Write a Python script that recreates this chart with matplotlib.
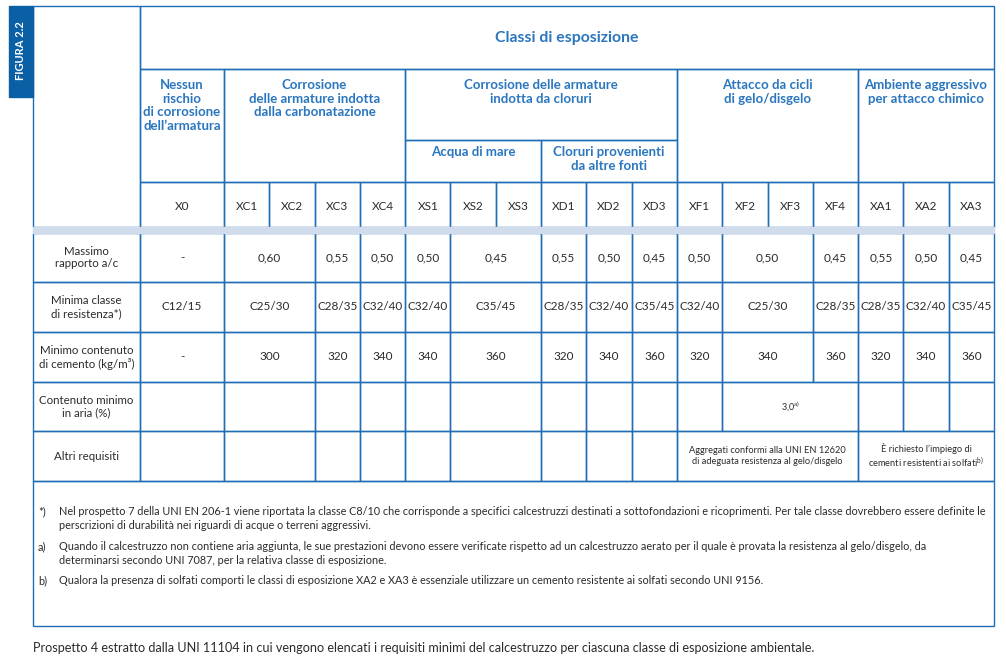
import matplotlib.pyplot as plt
from matplotlib.patches import Rectangle

plt.rcParams['font.family'] = ['Lato', 'DejaVu Sans']
plt.rcParams['mathtext.fontset'] = 'custom'
plt.rcParams['mathtext.rm'] = 'Lato'

# ---- table content ----
title = 'Classi di esposizione'
codes = ['X0', 'XC1', 'XC2', 'XC3', 'XC4', 'XS1', 'XS2', 'XS3', 'XD1', 'XD2', 'XD3',
         'XF1', 'XF2', 'XF3', 'XF4', 'XA1', 'XA2', 'XA3']
groups = ['Nessun\nrischio\ndi corrosione\ndell’armatura',
          'Corrosione\ndelle armature indotta\ndalla carbonatazione',
          'Corrosione delle armature\nindotta da cloruri',
          'Attacco da cicli\ndi gelo/disgelo',
          'Ambiente aggressivo\nper attacco chimico']
group_spans = [1, 4, 6, 4, 3]
chloride_sub = ['Acqua di mare', 'Cloruri provenienti\nda altre fonti']
chloride_sub_spans = [3, 3]

row_labels = ['Massimo\nrapporto a/c',
              'Minima classe\ndi resistenza*)',
              'Minimo contenuto\ndi cemento (kg/m³)',
              'Contenuto minimo\nin aria (%)',
              'Altri requisiti']

main_spans = [1, 2, 1, 1, 1, 2, 1, 1, 1, 1, 2, 1, 1, 1, 1]
rapporto_ac = ['-', '0,60', '0,55', '0,50', '0,50', '0,45', '0,55', '0,50', '0,45',
               '0,50', '0,50', '0,45', '0,55', '0,50', '0,45']
classe_resistenza = ['C12/15', 'C25/30', 'C28/35', 'C32/40', 'C32/40', 'C35/45', 'C28/35',
                     'C32/40', 'C35/45', 'C32/40', 'C25/30', 'C28/35', 'C28/35', 'C32/40',
                     'C35/45']
contenuto_cemento = ['-', '300', '320', '340', '340', '360', '320', '340', '360',
                     '320', '340', '360', '320', '340', '360']
aria_spans = [1, 2, 1, 1, 1, 2, 1, 1, 1, 1, 3, 1, 1, 1]
aria = [''] * 10 + [r'3,0$^{\mathrm{a)}}$'] + [''] * 3
altri_spans = [1, 2, 1, 1, 1, 2, 1, 1, 1, 4, 3]
altri = [''] * 9 + ['Aggregati conformi alla UNI EN 12620\ndi adeguata resistenza al gelo/disgelo',
                    'È richiesto l’impiego di\ncementi resistenti ai solfati' + r'$^{\mathrm{b)}}$']

footnote_marks = ['*)', 'a)', 'b)']
footnote_texts = [
    'Nel prospetto 7 della UNI EN 206-1 viene riportata la classe C8/10 che corrisponde a specifici '
    'calcestruzzi destinati a sottofondazioni e ricoprimenti. Per tale classe dovrebbero essere definite le\n'
    'perscrizioni di durabilità nei riguardi di acque o terreni aggressivi.',
    'Quando il calcestruzzo non contiene aria aggiunta, le sue prestazioni devono essere verificate rispetto '
    'ad un calcestruzzo aerato per il quale è provata la resistenza al gelo/disgelo, da\n'
    'determinarsi secondo UNI 7087, per la relativa classe di esposizione.',
    'Qualora la presenza di solfati comporti le classi di esposizione XA2 e XA3 è essenziale utilizzare '
    'un cemento resistente ai solfati secondo UNI 9156.',
]
caption = ('Prospetto 4 estratto dalla UNI 11104 in cui vengono elencati i requisiti minimi del '
           'calcestruzzo per ciascuna classe di esposizione ambientale.')

# ---- style ----
LINE = '#1f6db4'
HEAD = '#2a76bf'
TAB = '#0b5fa5'
BAND = '#d0dcec'
TXT = '#2b2b2b'
LW = 1.0

fig = plt.figure(figsize=(10.06, 6.61), dpi=100)
ax = fig.add_axes([0, 0, 1, 1])
ax.set_xlim(0, 1006)
ax.set_ylim(661, 0)
ax.axis('off')

left, lab_r, x0_r, right = 33, 140, 224, 994
top, title_b, group_b, sub_t, code_t, code_b = 6, 69, 182, 140, 182, 227
band_b = 233
row_edges = [233, 282, 332, 382, 431, 481]
foot_b = 626

col_w = (right - x0_r) / 17
edges = [lab_r, x0_r] + [x0_r + col_w * i for i in range(1, 18)]


def cell(xa, xb, ya, yb):
    ax.add_patch(Rectangle((xa, ya), xb - xa, yb - ya, fill=False, ec=LINE, lw=LW, zorder=2))


def span_cells(spans, start=0):
    out, i = [], start
    for s in spans:
        out.append((edges[i], edges[i + s]))
        i += s
    return out


# blue side tab
ax.add_patch(Rectangle((9, 6), left - 9, 91, color=TAB, zorder=3))
ax.text(21, 51, 'FIGURA 2.2', rotation=90, color='white', fontsize=8, fontweight='bold',
        ha='center', va='center', zorder=4)

# header
cell(left, lab_r, top, code_b)
cell(lab_r, right, top, title_b)
ax.text((lab_r + right) / 2, 38, title, color=HEAD, fontsize=11.4, fontweight='bold',
        ha='center', va='center')

for (xa, xb), name, s in zip(span_cells(group_spans), groups, group_spans):
    cell(xa, xb, title_b, sub_t if s == 6 else group_b)
    ax.text((xa + xb) / 2, 79, name, color=HEAD, fontsize=9.5, fontweight='bold',
            ha='center', va='top', linespacing=1.16, multialignment='center')

# chloride sub headers
for (xa, xb), sub in zip(span_cells(chloride_sub_spans, sum(group_spans[:2])), chloride_sub):
    cell(xa, xb, sub_t, group_b)
    ax.text((xa + xb) / 2, 146, sub, color=HEAD, fontsize=9.5, fontweight='bold',
            ha='center', va='top', linespacing=1.16, multialignment='center')

# code row
for i, c in enumerate(codes):
    cell(edges[i], edges[i + 1], code_t, code_b)
    ax.text((edges[i] + edges[i + 1]) / 2, 207, c, color=TXT, fontsize=8.5,
            ha='center', va='center')

ax.add_patch(Rectangle((left, code_b), right - left, band_b - code_b, color=BAND, zorder=3))

# data rows
rows = [(main_spans, rapporto_ac, 8.5, 1.3), (main_spans, classe_resistenza, 8.5, 1.3),
        (main_spans, contenuto_cemento, 8.5, 1.3), (aria_spans, aria, 6.5, 1.3),
        (altri_spans, altri, 6.7, 1.15)]
for r, (spans, vals, fs, lsp) in enumerate(rows):
    ya, yb = row_edges[r], row_edges[r + 1]
    ym = (ya + yb) / 2
    cell(left, lab_r, ya, yb)
    ax.text((left + lab_r) / 2, ym, row_labels[r], color=TXT, fontsize=8.3, ha='center',
            va='center', linespacing=1.2, multialignment='center')
    for (xa, xb), v in zip(span_cells(spans), vals):
        cell(xa, xb, ya, yb)
        if v:
            ax.text((xa + xb) / 2, ym, v, color=TXT, fontsize=fs, ha='center', va='center',
                    linespacing=lsp, multialignment='center')

# footnotes box
cell(left, right, row_edges[-1], foot_b)
for mark, txt, y in zip(footnote_marks, footnote_texts, [512, 547, 581]):
    ax.text(38, y - 6, mark, color=TXT, fontsize=7.8, ha='left', va='top')
    ax.text(59, y - 6, txt, color=TXT, fontsize=7.8, ha='left', va='top', linespacing=1.32)

ax.text(left, 648, caption, color=TXT, fontsize=9.05, ha='left', va='center')

fig.savefig('out.png', dpi=100, facecolor='white')
